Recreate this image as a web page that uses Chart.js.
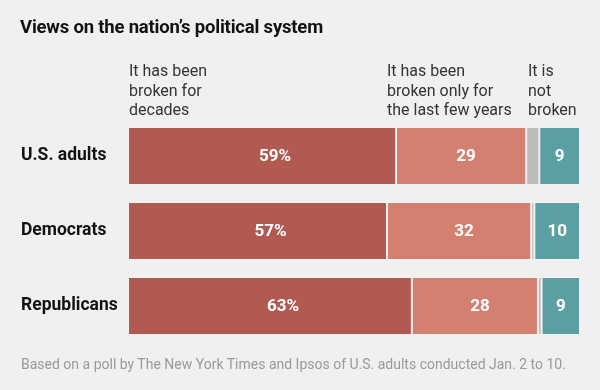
<!DOCTYPE html>
<html>
<head>
<meta charset="utf-8">
<script src="https://cdn.jsdelivr.net/npm/chart.js@4"></script>
<style>
  html, body { margin: 0; padding: 0; background: #f0f0f0; }
  #wrap { position: relative; width: 600px; height: 390px; background: #f0f0f0; overflow: hidden; }
  #c { position: absolute; left: 0; top: 0; }
  .t { position: absolute; font-family: Roboto, "Liberation Sans", sans-serif; white-space: nowrap; }
  #title { left: 20px; top: 16px; font-size: 18.5px; font-weight: 700; color: #121212; letter-spacing: -0.2px; }
  .hdr { top: 61px; font-size: 16px; line-height: 19.5px; color: #333; }
  #note { left: 21px; top: 356px; font-size: 14px; color: #999; }
</style>
</head>
<body>
<div id="wrap">
  <canvas id="c" width="600" height="390"></canvas>
  <div class="t" id="title">Views on the nation’s political system</div>
  <div class="t hdr" style="left:129px">It has been<br>broken for<br>decades</div>
  <div class="t hdr" style="left:387px">It has been<br>broken only for<br>the last few years</div>
  <div class="t hdr" style="left:528px">It is<br>not<br>broken</div>
  <div class="t" id="note">Based on a poll by The New York Times and Ipsos of U.S. adults conducted Jan. 2 to 10.</div>
</div>
<script>
const categories = ["U.S. adults", "Democrats", "Republicans"];
const brokenDecades = [59.3, 57.3, 62.8];
const brokenRecent = [28.8, 31.9, 27.9];
const noAnswer = [2.9, 0.7, 0.8];
const notBroken = [9.0, 10.1, 8.5];
const labelsDecades = ["59%", "57%", "63%"];
const labelsRecent = ["29", "32", "28"];
const labelsNotBroken = ["9", "10", "9"];

const valueLabels = {
  id: 'valueLabels',
  afterDatasetsDraw(chart) {
    const ctx = chart.ctx;
    ctx.save();
    ctx.fillStyle = '#ffffff';
    ctx.font = 'bold 17px Roboto, "Liberation Sans", sans-serif';
    ctx.textAlign = 'center';
    ctx.textBaseline = 'middle';
    chart.data.datasets.forEach((ds, di) => {
      if (!ds.valueText) return;
      const meta = chart.getDatasetMeta(di);
      meta.data.forEach((el, i) => {
        const cx = (el.x + el.base) / 2 + (ds.textShift || 0);
        ctx.fillText(ds.valueText[i], cx, el.y + 1);
      });
    });
    ctx.restore();
  }
};

const border = 'rgba(255,255,255,0.14)';
new Chart(document.getElementById('c'), {
  type: 'bar',
  data: {
    labels: categories,
    datasets: [
      { data: brokenDecades, backgroundColor: '#b05a52', valueText: labelsDecades, textShift: 13 },
      { data: brokenRecent, backgroundColor: '#d38071', valueText: labelsRecent, textShift: 5 },
      { data: noAnswer, backgroundColor: '#bcbcbc' },
      { data: notBroken, backgroundColor: '#5aa0a3', valueText: labelsNotBroken, textShift: 0 }
    ].map(d => Object.assign({
      borderColor: border, borderWidth: 1, borderSkipped: false,
      barPercentage: 0.773, categoryPercentage: 1
    }, d))
  },
  options: {
    responsive: false,
    animation: false,
    devicePixelRatio: 1,
    indexAxis: 'y',
    layout: { padding: { left: 21, right: 20, top: 118.5, bottom: 46.5 } },
    plugins: { legend: { display: false }, tooltip: { enabled: false } },
    scales: {
      x: { stacked: true, min: 0, max: 100, display: false },
      y: {
        stacked: true,
        grid: { display: false },
        border: { display: false },
        ticks: {
          crossAlign: 'far',
          color: '#121212',
          font: { family: 'Roboto, "Liberation Sans", sans-serif', size: 17.5, weight: 'bold' },
          padding: 0
        },
        afterFit(scale) { scale.width = 107; }
      }
    }
  },
  plugins: [valueLabels]
});
</script>
</body>
</html>
